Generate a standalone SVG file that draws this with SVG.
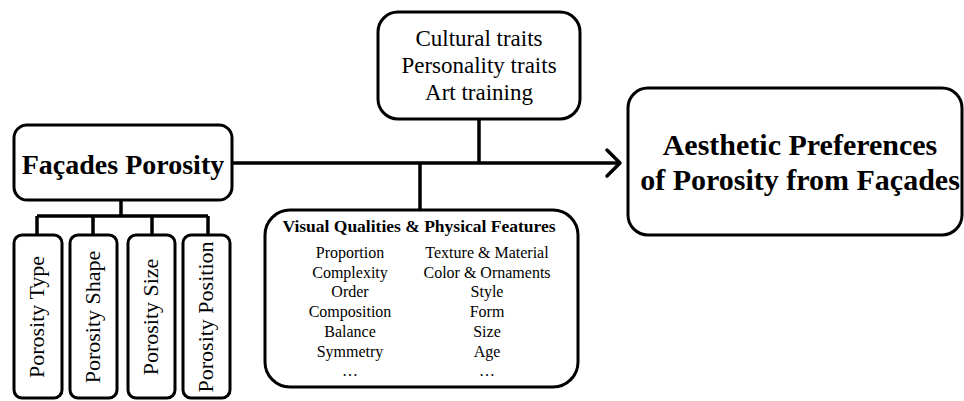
<svg xmlns="http://www.w3.org/2000/svg" width="964" height="401" viewBox="0 0 964 401">
<style>
.box{fill:#fff;stroke:#000;stroke-width:3}
.ln{fill:none;stroke:#000;stroke-width:3.5}
text{font-family:"Liberation Serif","Times New Roman",serif;fill:#000}
.b{font-weight:bold}
.m{text-anchor:middle}
</style>
<rect width="964" height="401" fill="#fff"/>
<g id="connectors">
<path class="ln" d="M232,163 H619"/>
<path class="ln" d="M607,150 L620,163 L607,176" stroke-linecap="round" stroke-linejoin="round"/>
<path class="ln" d="M479,119 V163"/>
<path class="ln" d="M420,163 V210"/>
<path class="ln" d="M121,200 V216"/>
<path class="ln" d="M37,216 H208"/>
<path class="ln" d="M37,216 V235 M93,216 V235 M152,216 V235 M208,216 V235"/>
</g>
<g id="facades">
<rect class="box" x="14" y="125" width="218" height="75" rx="13"/>
<text class="b m" x="123" y="174" font-size="28">Façades Porosity</text>
</g>
<g id="type">
<rect class="box" x="14" y="235" width="48" height="163" rx="8"/>
<text class="m" font-size="22" transform="translate(44,317) rotate(-90)">Porosity Type</text>
</g>
<g id="shape">
<rect class="box" x="70" y="235" width="47" height="163" rx="8"/>
<text class="m" font-size="22" transform="translate(100,317) rotate(-90)">Porosity Shape</text>
</g>
<g id="size">
<rect class="box" x="128" y="235" width="47" height="163" rx="8"/>
<text class="m" font-size="22" transform="translate(158,317) rotate(-90)">Porosity Size</text>
</g>
<g id="position">
<rect class="box" x="183" y="235" width="47" height="163" rx="8"/>
<text class="m" font-size="22" transform="translate(213,317) rotate(-90)">Porosity Position</text>
</g>
<g id="traits">
<rect class="box" x="378" y="12" width="202" height="107" rx="20"/>
<text class="m" font-size="23" x="479" y="46">Cultural traits</text>
<text class="m" font-size="23" x="479" y="73">Personality traits</text>
<text class="m" font-size="23" x="479" y="100">Art training</text>
</g>
<g id="visual">
<rect class="box" x="265" y="210" width="313" height="177" rx="25"/>
<text class="b m" font-size="17.5" x="419" y="232">Visual Qualities &amp; Physical Features</text>
<g class="m" font-size="16">
<text class="m" x="350" y="258">Proportion</text>
<text class="m" x="350" y="278">Complexity</text>
<text class="m" x="350" y="297">Order</text>
<text class="m" x="350" y="317">Composition</text>
<text class="m" x="350" y="337">Balance</text>
<text class="m" x="350" y="357">Symmetry</text>
<text class="m" x="350" y="376">…</text>
<text class="m" x="487" y="258">Texture &amp; Material</text>
<text class="m" x="487" y="278">Color &amp; Ornaments</text>
<text class="m" x="487" y="297">Style</text>
<text class="m" x="487" y="317">Form</text>
<text class="m" x="487" y="337">Size</text>
<text class="m" x="487" y="357">Age</text>
<text class="m" x="487" y="376">…</text>
</g>
</g>
<g id="aesthetic">
<rect class="box" x="628" y="88" width="334" height="147" rx="20"/>
<text class="b m" font-size="30" x="800" y="155">Aesthetic Preferences</text>
<text class="b m" font-size="30" x="800" y="190">of Porosity from Façades</text>
</g>
</svg>
